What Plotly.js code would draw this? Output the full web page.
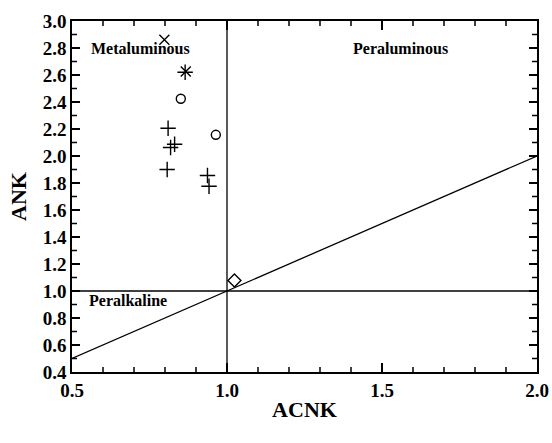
<!DOCTYPE html>
<html><head><meta charset="utf-8">
<script src="https://cdn.plot.ly/plotly-3.0.1.min.js"></script>
<style>body{margin:0;background:#fff}#chart{width:552px;height:443px}</style>
</head><body><div id="chart"></div>
<script>
// Data
var crossX = [0.798, 0.867];
var crossY = [2.861, 2.626];
var plusX = [0.865, 0.810, 0.818, 0.831, 0.807, 0.937, 0.942];
var plusY = [2.620, 2.206, 2.063, 2.087, 1.900, 1.856, 1.776];
var circleX = [0.851, 0.964];
var circleY = [2.424, 2.157];
var diamondX = [1.024];
var diamondY = [1.078];
// Boundary lines
var vLineX = [1.0, 1.0], vLineY = [0.4, 3.0];
var hLineX = [0.5, 2.0], hLineY = [1.0, 1.0];
var dLineX = [0.5, 2.0], dLineY = [0.5, 2.0];
var fieldLabels = ["Metaluminous", "Peraluminous", "Peralkaline"];
var fieldX = [0.72, 1.56, 0.68];
var fieldY = [2.8, 2.8, 0.93];
// Tick values
var xMajorTicks = [1.0, 1.5];
var xMinorTicks = [0.6, 0.7, 0.8, 0.9, 1.1, 1.2, 1.3, 1.4, 1.6, 1.7, 1.8, 1.9];
var yMajorTicks = [0.6, 0.8, 1.0, 1.2, 1.4, 1.6, 1.8, 2.0, 2.2, 2.4, 2.6, 2.8];
var yMinorTicks = [0.5, 0.7, 0.9, 1.1, 1.3, 1.5, 1.7, 1.9, 2.1, 2.3, 2.5, 2.7, 2.9];

var ln = {color: '#000', width: 1.3};
var traces = [
  {x: vLineX, y: vLineY, mode: 'lines', line: ln, hoverinfo: 'skip'},
  {x: hLineX, y: hLineY, mode: 'lines', line: ln, hoverinfo: 'skip'},
  {x: dLineX, y: dLineY, mode: 'lines', line: ln, hoverinfo: 'skip'},
  {x: crossX, y: crossY, mode: 'markers', marker: {symbol: 'x-thin-open', size: 10, color: '#000', line: {color: '#000', width: 1.4}}},
  {x: plusX, y: plusY, mode: 'markers', marker: {symbol: 'cross-thin-open', size: 11, color: '#000', line: {color: '#000', width: 1.4}}},
  {x: circleX, y: circleY, mode: 'markers', marker: {symbol: 'circle-open', size: 9, color: '#000', line: {color: '#000', width: 1.4}}},
  {x: diamondX, y: diamondY, mode: 'markers', marker: {symbol: 'diamond-open', size: 10, color: '#000', line: {color: '#000', width: 1.4}}}
];

var serif = '"Liberation Serif", "Times New Roman", serif';
var tf = {family: serif, size: 19, color: '#000', weight: 'bold'};
var annotations = fieldLabels.map(function(t, i){
  return {x: fieldX[i], y: fieldY[i], text: t, showarrow: false,
    font: {family: serif, size: 16, color: '#000', weight: 'bold'}, xanchor: 'center', yanchor: 'middle'};
});

// inside tick marks on all four sides (lengths in paper fractions)
var plotW = 552 - 72 - 15, plotH = 443 - 21 - 71;
var shapes = [];
var tl = {color: '#000', width: 1.5};
function addX(vals, len){
  var f = len / plotH;
  vals.forEach(function(v){
    shapes.push({type: 'line', xref: 'x', yref: 'paper', x0: v, x1: v, y0: 0, y1: f, line: tl, layer: 'above'});
    shapes.push({type: 'line', xref: 'x', yref: 'paper', x0: v, x1: v, y0: 1, y1: 1 - f, line: tl, layer: 'above'});
  });
}
function addY(vals, len){
  var f = len / plotW;
  vals.forEach(function(v){
    shapes.push({type: 'line', xref: 'paper', yref: 'y', y0: v, y1: v, x0: 0, x1: f, line: tl, layer: 'above'});
    shapes.push({type: 'line', xref: 'paper', yref: 'y', y0: v, y1: v, x0: 1, x1: 1 - f, line: tl, layer: 'above'});
  });
}
addX(xMajorTicks, 9); addX(xMinorTicks, 5);
addY(yMajorTicks, 8); addY(yMinorTicks, 5);

var layout = {
  width: 552, height: 443,
  margin: {l: 72, r: 15, t: 21, b: 71, pad: 0},
  paper_bgcolor: '#fff', plot_bgcolor: '#fff',
  showlegend: false,
  annotations: annotations,
  shapes: shapes,
  xaxis: {
    range: [0.5, 2.0], dtick: 0.5, tick0: 0.5, tickformat: '.1f',
    ticks: 'inside', ticklen: 9, tickwidth: 1.5, tickcolor: 'black',
    showline: true, linecolor: 'black', linewidth: 1.5, mirror: 'allticks',
    showgrid: false, zeroline: false, tickfont: tf,
    title: {text: 'ACNK', font: {family: serif, size: 22, color: '#000', weight: 'bold'}, standoff: 2}
  },
  yaxis: {
    range: [0.4, 3.0], dtick: 0.2, tick0: 0.4, tickformat: '.1f',
    ticks: 'inside', ticklen: 8, tickwidth: 1.5, tickcolor: 'black',
    showline: true, linecolor: 'black', linewidth: 1.5, mirror: 'allticks',
    showgrid: false, zeroline: false, tickfont: tf,
    title: {text: 'ANK', font: {family: serif, size: 22, color: '#000', weight: 'bold'}, standoff: 10}
  }
};
Plotly.newPlot('chart', traces, layout, {displayModeBar: false});
</script></body></html>
